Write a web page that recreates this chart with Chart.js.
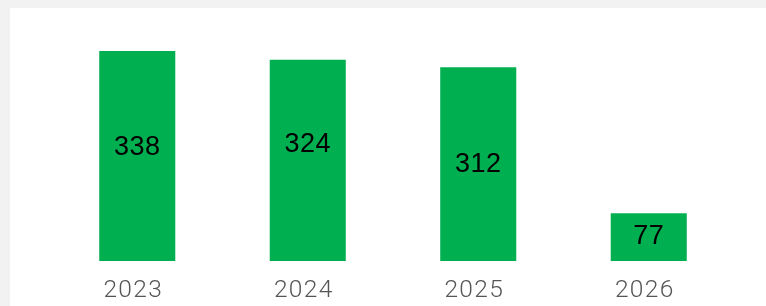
<!DOCTYPE html>
<html lang="en">
<head>
    <meta charset="UTF-8">
    <title>Yearly totals</title>
    <script src="https://cdn.jsdelivr.net/npm/chart.js"></script>
    <style>
        html, body { margin: 0; padding: 0; background: #f2f2f2; }
        .panel { position: absolute; left: 10px; top: 8px; width: 756px; height: 298px; background: #fff; }
    </style>
</head>
<body>
    <div class="panel">
        <canvas id="yearChart" width="756" height="298"></canvas>
    </div>

    <script>
        // data
        const years = ['2023', '2024', '2025', '2026'];
        const totals = [338, 324, 312, 77];

        // the value labels in the original are not exactly centred in the bars
        const labelShift = [-8, -16, 0.5, -1];

        // value in each bar + year under each bar (drawn by hand so the spacing matches)
        const barText = {
            id: 'barText',
            afterDatasetsDraw(chart) {
                const ctx = chart.ctx;
                const meta = chart.getDatasetMeta(0);
                const bottom = chart.chartArea.bottom;
                ctx.save();
                ctx.textAlign = 'center';
                meta.data.forEach(function(bar, i) {
                    ctx.font = '27px "Liberation Sans"';
                    ctx.fillStyle = '#000';
                    ctx.textBaseline = 'middle';
                    ctx.letterSpacing = '0.5px';
                    ctx.fillText(String(totals[i]), bar.x, (bar.y + bar.base) / 2 + labelShift[i]);

                    ctx.font = '300 24.5px Roboto';
                    ctx.fillStyle = '#555';
                    ctx.textBaseline = 'alphabetic';
                    ctx.letterSpacing = '1.3px';
                    ctx.fillText(chart.data.labels[i], bar.x - 4, bottom + 36);
                    ctx.letterSpacing = '0px';
                });
                ctx.restore();
            }
        };

        const ctx = document.getElementById('yearChart').getContext('2d');
        new Chart(ctx, {
            type: 'bar',
            data: {
                labels: years,
                datasets: [{
                    data: totals,
                    backgroundColor: '#00AF50',
                    borderWidth: 0,
                    categoryPercentage: 1,
                    barPercentage: 0.446
                }]
            },
            options: {
                responsive: false,
                animation: false,
                layout: { padding: { left: 42, right: 32, top: 4.5, bottom: 45 } },
                plugins: {
                    legend: { display: false },
                    tooltip: { enabled: false }
                },
                scales: {
                    x: { display: false },
                    y: {
                        display: false,
                        min: 0,
                        max: 400
                    }
                }
            },
            plugins: [barText]
        });
    </script>
</body>
</html>
